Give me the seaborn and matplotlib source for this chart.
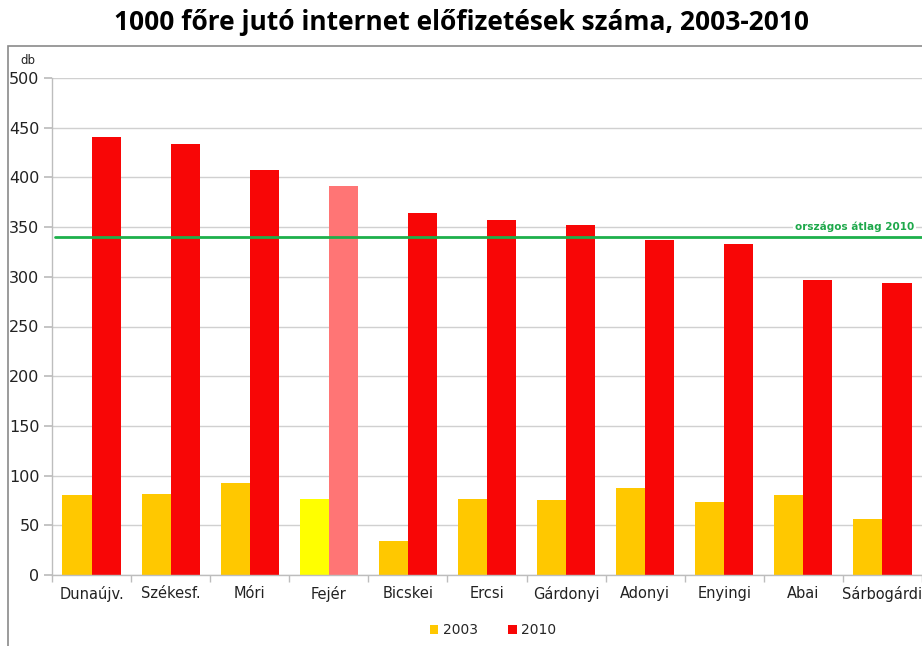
import matplotlib
matplotlib.use("Agg")
import matplotlib.pyplot as plt
from matplotlib.patches import Patch, Rectangle
from matplotlib.ticker import MultipleLocator, FixedLocator
import seaborn as sns
import pandas as pd

# Internet subscriptions per 1000 inhabitants by district
districts = ["Dunaújv.", "Székesf.", "Móri", "Fejér", "Bicskei", "Ercsi",
             "Gárdonyi", "Adonyi", "Enyingi", "Abai", "Sárbogárdi"]
subs_2003 = [80, 81, 93, 76, 34, 76, 75, 88, 73, 80, 56]
subs_2010 = [441, 434, 407, 391, 364, 357, 352, 337, 333, 297, 294]
years = ["2003", "2010"]
national_avg_2010 = 340
highlight = "Fejér"

colors = {"2003": "#FFC800", "2010": "#F80606"}
highlight_colors = {"2003": "#FFFF00", "2010": "#FF7575"}

df = pd.DataFrame({
    "district": districts * 2,
    "year": [years[0]] * len(districts) + [years[1]] * len(districts),
    "value": subs_2003 + subs_2010,
})

sns.set_theme(style="white")
plt.rcParams["font.family"] = ["DejaVu Sans"]

fig = plt.figure(figsize=(9.22, 6.46), dpi=100)
ax = fig.add_axes([52 / 922, 1 - 575 / 646, 870 / 922, (575 - 78) / 646])

sns.barplot(data=df, x="district", y="value", hue="year", order=districts,
            hue_order=years, palette=colors, width=0.735, saturation=1,
            edgecolor="none", linewidth=0, legend=False, ax=ax)

# highlight the county-level bars
hi = districts.index(highlight)
for cont, yr in zip(ax.containers, years):
    cont.patches[hi].set_facecolor(highlight_colors[yr])

ax.set_xlim(-0.5, len(districts) - 0.5)
ax.set_ylim(0, 500)
ax.yaxis.set_major_locator(MultipleLocator(50))
ax.grid(axis="y", color="#D0D0D0", linewidth=1)
ax.grid(axis="x", visible=False)
ax.set_axisbelow(True)

for s in ["top", "right"]:
    ax.spines[s].set_visible(False)
for s in ["left", "bottom"]:
    ax.spines[s].set_color("#BDBDBD")
    ax.spines[s].set_linewidth(1)

ax.set_xlabel("")
ax.set_ylabel("")
ax.tick_params(axis="y", which="major", length=6, color="#BDBDBD",
               labelsize=11.5, labelcolor="#222222", pad=3, left=True)
ax.tick_params(axis="x", which="major", length=0, labelsize=10.5,
               labelcolor="#222222", pad=8)
ax.xaxis.set_minor_locator(FixedLocator([i - 0.5 for i in range(len(districts) + 1)]))
ax.tick_params(axis="x", which="minor", length=5, color="#BDBDBD", bottom=True)

# national average line
ax.axhline(national_avg_2010, xmin=0.004, xmax=1, color="#1DB04B", linewidth=2, zorder=3)
ax.text(len(districts) - 0.6, national_avg_2010 + 5, "országos átlag 2010",
        ha="right", va="bottom", fontsize=7.5, fontweight="bold", color="#1DA84A",
        bbox=dict(facecolor="white", edgecolor="none", pad=1.5), zorder=4)

# unit label
fig.text(28 / 922, 1 - 60 / 646, "db", ha="center", va="center", fontsize=8.5,
         color="#222222")

# title
fig.text(461 / 922, 1 - 23 / 646, "1000 főre jutó internet előfizetések száma, 2003-2010",
         ha="center", va="center", fontsize=19, fontweight="bold",
         family=["Open Sans", "DejaVu Sans"], color="black")

# legend
handles = [Patch(facecolor=colors[y], edgecolor="none", label=y) for y in years]
fig.legend(handles=handles, loc="center", bbox_to_anchor=(493 / 922, 1 - 630 / 646),
           ncol=2, frameon=False, fontsize=10, handlelength=0.6, handleheight=0.6,
           handletextpad=0.3, columnspacing=2.2)

# chart area frame
fig.patches.append(Rectangle((8 / 922, -0.05), 1.0, 1 - 46 / 646 + 0.05,
                             transform=fig.transFigure, fill=False,
                             edgecolor="#8A8A8A", linewidth=1.2))

fig.savefig("out.png", dpi=100)
